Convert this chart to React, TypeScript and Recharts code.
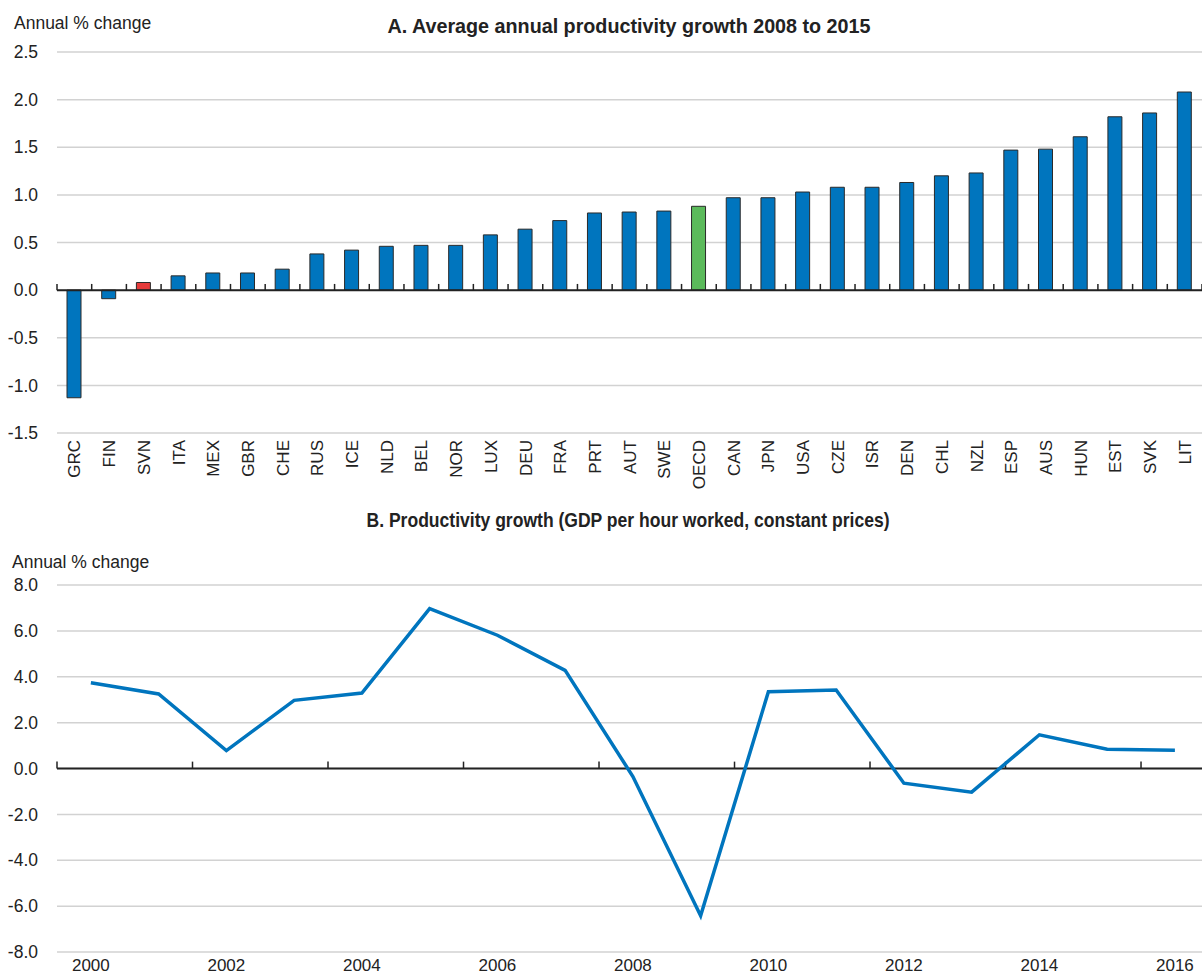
import React from 'react';
import {
  Bar,
  BarChart,
  CartesianGrid,
  Cell,
  Line,
  LineChart,
  ReferenceLine,
  XAxis,
  YAxis,
} from 'recharts';

// Panel A: average annual productivity growth 2008-2015
const countries = [
  'GRC', 'FIN', 'SVN', 'ITA', 'MEX', 'GBR', 'CHE', 'RUS', 'ICE', 'NLD', 'BEL',
  'NOR', 'LUX', 'DEU', 'FRA', 'PRT', 'AUT', 'SWE', 'OECD', 'CAN', 'JPN', 'USA',
  'CZE', 'ISR', 'DEN', 'CHL', 'NZL', 'ESP', 'AUS', 'HUN', 'EST', 'SVK', 'LIT',
];
const growth0815 = [
  -1.13, -0.09, 0.08, 0.15, 0.18, 0.18, 0.22, 0.38, 0.42, 0.46, 0.47,
  0.47, 0.58, 0.64, 0.73, 0.81, 0.82, 0.83, 0.88, 0.97, 0.97, 1.03,
  1.08, 1.08, 1.13, 1.2, 1.23, 1.47, 1.48, 1.61, 1.82, 1.86, 2.08,
];
const yTicksA = [-1.5, -1.0, -0.5, 0, 0.5, 1.0, 1.5, 2.0, 2.5];

// Panel B: productivity growth, GDP per hour worked
const years = [
  2000, 2001, 2002, 2003, 2004, 2005, 2006, 2007, 2008,
  2009, 2010, 2011, 2012, 2013, 2014, 2015, 2016,
];
const productivity = [
  3.74, 3.25, 0.78, 2.97, 3.29, 6.97, 5.81, 4.28, -0.35,
  -6.42, 3.35, 3.42, -0.64, -1.03, 1.47, 0.84, 0.8,
];
const yearTicks = [2000, 2002, 2004, 2006, 2008, 2010, 2012, 2014, 2016];
const yTicksB = [-8, -6, -4, -2, 0, 2, 4, 6, 8];

const highlight: Record<string, string> = { SVN: '#E63B3B', OECD: '#5BBA5B' };
const BLUE = '#0075BE';
const INK = '#222';
const GRID = '#d2d2d2';
const FONT = '"Liberation Sans", Arial, Helvetica, sans-serif';

const barData = countries.map((code, idx) => ({ idx, code, value: growth0815[idx] }));
const lineData = years.map((year, i) => ({ year, value: productivity[i] }));

// small marks between the categories on the zero line
const barBoundaries = countries.map((_, i) => i - 0.5).concat(countries.length - 0.5);
const yearBoundaries = yearTicks.map((y) => y - 0.5);

function CountryTick({ x, y, payload }: any) {
  return (
    <text
      x={x}
      y={y}
      transform={`rotate(-90, ${x}, ${y})`}
      textAnchor="end"
      dy="0.36em"
      fontSize={17}
      fontFamily={FONT}
      fill={INK}
    >
      {countries[payload.value]}
    </text>
  );
}

const tickStyle = { fontSize: 17.5, fill: INK, fontFamily: FONT };

export default function App() {
  return (
    <div
      style={{
        position: 'absolute',
        left: 0,
        top: 0,
        width: 1202,
        height: 977,
        background: '#fff',
        overflow: 'hidden',
      }}
    >
      <div style={{ position: 'absolute', left: 0, top: 0 }}>
        <BarChart width={1202} height={500} data={barData} margin={{ top: 52, right: 0, bottom: 0, left: 0 }}>
          <CartesianGrid vertical={false} stroke={GRID} strokeWidth={1.5} />
          <XAxis
            type="number"
            dataKey="idx"
            domain={[-0.5, countries.length - 0.5]}
            allowDataOverflow
            ticks={barData.map((d) => d.idx)}
            interval={0}
            height={67}
            axisLine={false}
            tickLine={false}
            tickSize={5}
            tickMargin={2}
            tick={<CountryTick />}
          />
          <YAxis
            width={57}
            domain={[-1.5, 2.5]}
            ticks={yTicksA}
            interval={0}
            axisLine={false}
            tickLine={false}
            tickSize={0}
            tickMargin={19}
            tick={tickStyle}
            tickFormatter={(v: number) => v.toFixed(1)}
          />
          <Bar dataKey="value" barSize={14} stroke="#2a2a2a" strokeWidth={1} isAnimationActive={false}>
            {barData.map((d) => (
              <Cell key={d.code} fill={highlight[d.code] ?? BLUE} />
            ))}
          </Bar>
          <ReferenceLine y={0} stroke={INK} strokeWidth={2} />
          {barBoundaries.map((b) => (
            <ReferenceLine
              key={b}
              segment={[{ x: b, y: 0 }, { x: b, y: 0.065 }]}
              stroke={INK}
              strokeWidth={1.5}
            />
          ))}
        </BarChart>
      </div>

      <div style={{ position: 'absolute', left: 0, top: 540 }}>
        <LineChart width={1202} height={437} data={lineData} margin={{ top: 45, right: 0, bottom: 0, left: 0 }}>
          <CartesianGrid vertical={false} stroke={GRID} strokeWidth={1.5} />
          <XAxis
            type="number"
            dataKey="year"
            domain={[1999.5, 2016.4]}
            allowDataOverflow
            ticks={yearTicks}
            interval={0}
            height={25}
            axisLine={false}
            tickLine={false}
            tickSize={6}
            tickMargin={1}
            tick={{ ...tickStyle, fontSize: 17 }}
          />
          <YAxis
            width={57}
            domain={[-8, 8]}
            ticks={yTicksB}
            interval={0}
            axisLine={false}
            tickLine={false}
            tickSize={0}
            tickMargin={19}
            tick={tickStyle}
            tickFormatter={(v: number) => v.toFixed(1)}
          />
          <ReferenceLine y={0} stroke={INK} strokeWidth={2} />
          {yearBoundaries.map((b) => (
            <ReferenceLine
              key={b}
              segment={[{ x: b, y: 0 }, { x: b, y: 0.3 }]}
              stroke={INK}
              strokeWidth={1.5}
            />
          ))}
          <Line
            type="linear"
            dataKey="value"
            stroke={BLUE}
            strokeWidth={3.5}
            dot={false}
            isAnimationActive={false}
          />
        </LineChart>
      </div>

      <svg
        width={1202}
        height={977}
        style={{ position: 'absolute', left: 0, top: 0, pointerEvents: 'none' }}
        fontFamily={FONT}
        fill={INK}
      >
        <text x={14} y={29} fontSize={17.5}>Annual % change</text>
        <text
          x={629}
          y={33}
          fontSize={21}
          fontWeight="bold"
          textAnchor="middle"
          textLength={483}
          lengthAdjust="spacingAndGlyphs"
        >
          A. Average annual productivity growth 2008 to 2015
        </text>
        <text
          x={628}
          y={527}
          fontSize={21}
          fontWeight="bold"
          textAnchor="middle"
          textLength={523}
          lengthAdjust="spacingAndGlyphs"
        >
          B. Productivity growth (GDP per hour worked, constant prices)
        </text>
        <text x={12} y={568} fontSize={17.5}>Annual % change</text>
      </svg>
    </div>
  );
}
